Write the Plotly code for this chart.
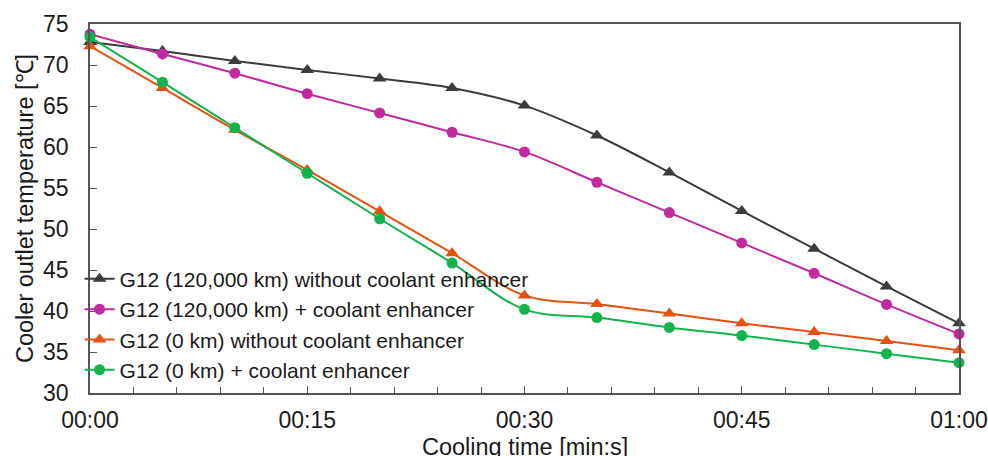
import plotly.graph_objects as go

# Cooling time in seconds (sampled every 5 s)
time_s = [0, 5, 10, 15, 20, 25, 30, 35, 40, 45, 50, 55, 60]

# Coolant outlet temperature, deg C
g12_120k_no_enh = [72.8, 71.7, 70.5, 69.4, 68.35, 67.2, 65.05, 61.4, 56.9, 52.2, 47.6, 43.0, 38.5]
g12_120k_enh = [73.75, 71.35, 69.0, 66.5, 64.15, 61.8, 59.4, 55.7, 52.0, 48.3, 44.6, 40.8, 37.2]
g12_0k_no_enh = [72.3, 67.2, 62.1, 57.2, 52.15, 47.05, 41.9, 40.85, 39.7, 38.5, 37.45, 36.35, 35.2]
g12_0k_enh = [73.4, 67.9, 62.35, 56.8, 51.25, 45.85, 40.2, 39.2, 38.0, 37.0, 35.9, 34.8, 33.7]

series_names = [
    "G12 (120,000 km) without coolant enhancer",
    "G12 (120,000 km) + coolant enhancer",
    "G12 (0 km) without coolant enhancer",
    "G12 (0 km) + coolant enhancer",
]
series_values = [g12_120k_no_enh, g12_120k_enh, g12_0k_no_enh, g12_0k_enh]
series_colors = ["#3b3b3b", "#c02a9e", "#e2530f", "#10b34c"]
series_symbols = ["triangle-up", "circle", "triangle-up", "circle"]

x_tick_vals = [0, 15, 30, 45, 60]
x_tick_text = ["00:00", "00:15", "00:30", "00:45", "01:00"]
x_title = "Cooling time [min:s]"
y_title = "Cooler outlet temperature [℃]"

FONT = "Arial, Liberation Sans, sans-serif"
AXIS_COLOR = "#555555"

fig = go.Figure()
for name, vals, color, sym in zip(series_names, series_values, series_colors, series_symbols):
    fig.add_trace(go.Scatter(
        x=time_s, y=vals, name=name, mode="lines+markers",
        line=dict(color=color, width=2, shape="spline", smoothing=1.0),
        marker=dict(symbol=sym, color=color, size=11 if sym == "circle" else 12),
        cliponaxis=False,
    ))

fig.update_layout(
    width=988, height=456,
    margin=dict(l=90, r=29, t=24, b=63, autoexpand=False),
    paper_bgcolor="white", plot_bgcolor="white",
    font=dict(family=FONT, size=21, color="#1a1a1a"),
    showlegend=True,
    legend=dict(
        x=-0.012, y=0.364, xanchor="left", yanchor="top",
        bgcolor="rgba(0,0,0,0)", font=dict(size=21),
        itemwidth=30, tracegroupgap=0,
    ),
)

# x-axis title sits just below the tick labels, partly running off the bottom edge
fig.add_annotation(
    text=x_title, xref="paper", yref="paper", x=0.5, y=-0.146,
    xanchor="center", yanchor="middle", showarrow=False,
    font=dict(size=23.5, family=FONT, color="#1a1a1a"),
)

fig.update_xaxes(
    range=[0, 60], tickvals=x_tick_vals, ticktext=x_tick_text,
    ticks="inside", ticklen=7, tickwidth=1, tickcolor=AXIS_COLOR,
    minor=dict(dtick=3, ticks="inside", ticklen=6, tickwidth=1, tickcolor=AXIS_COLOR),
    showline=True, linecolor=AXIS_COLOR, linewidth=1.5, mirror=True,
    showgrid=False, zeroline=False, automargin=False,
    tickfont=dict(size=23), ticklabelstandoff=6, ticklabeloverflow="allow",
)
fig.update_yaxes(
    range=[30, 75], dtick=5,
    ticks="inside", ticklen=7, tickwidth=1, tickcolor=AXIS_COLOR,
    showline=True, linecolor=AXIS_COLOR, linewidth=1.5, mirror=True,
    showgrid=False, zeroline=False, automargin=False,
    tickfont=dict(size=23), ticklabelstandoff=15,
    title=dict(text=y_title, font=dict(size=23.5), standoff=3),
)

fig.write_html("out.html")
